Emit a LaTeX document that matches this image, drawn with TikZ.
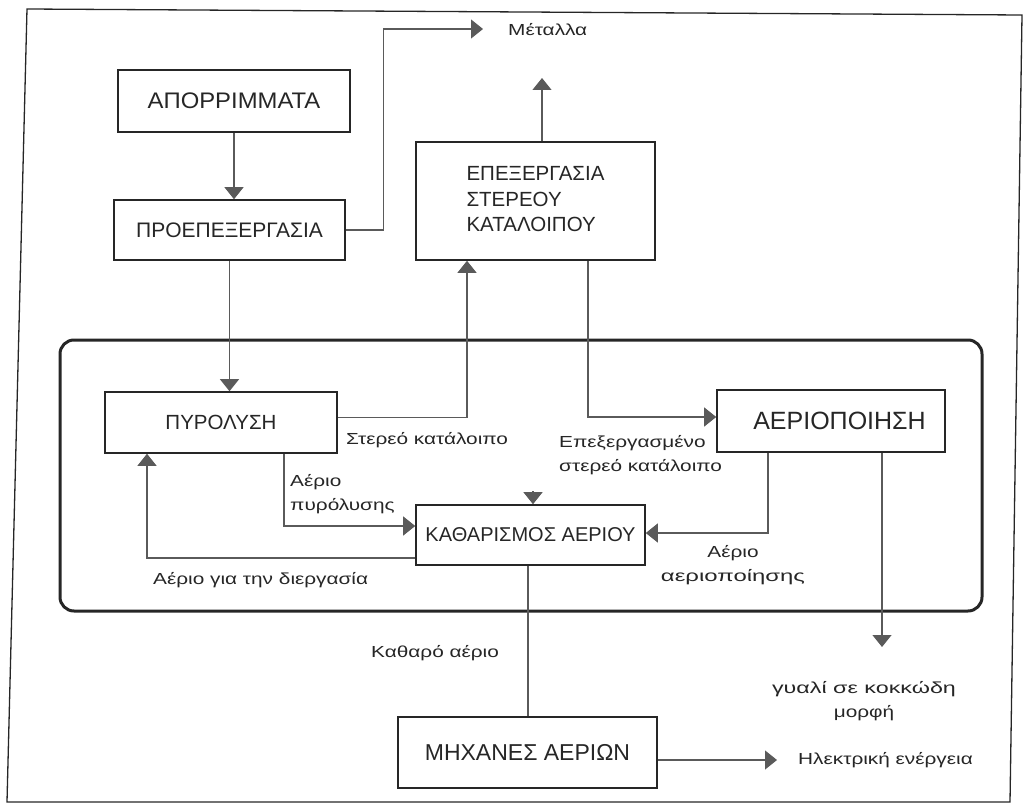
\documentclass[tikz,border=0pt]{standalone}
\usepackage{fontspec}
\usepackage{graphicx}
\setmainfont{Liberation Sans}
\newfontfamily\lblfont{Liberation Sans}[FakeStretch=1.3]
\usetikzlibrary{arrows.meta,calc}
\definecolor{ink}{HTML}{262626}
\definecolor{wire}{HTML}{5A5A5A}
% horizontally widened caption text
\newcommand{\widetext}[2]{\scalebox{#1}[1]{#2}}
\begin{document}
\begin{tikzpicture}[x=1pt,y=-1pt,
  box/.style={draw=ink, line width=1.6pt, text=ink, inner xsep=4pt},
  fs/.style={font=\fontsize{#1}{25.5}\selectfont},
  lbl/.style={text=ink, inner sep=0pt, font=\lblfont\fontsize{16}{24}\selectfont},
  wireline/.style={draw=wire, line width=1.2pt},
  arr/.style={wireline, -{Triangle[width=19pt,length=12pt,fill=wire]}}]
\useasboundingbox (0,0) rectangle (1030,805);

% page frame and process enclosure
\draw[line width=1.3pt, ink] (27,9) -- (1022,15) -- (1010,802) -- (7,802) -- cycle;
\draw[line width=3pt, ink, rounded corners=14pt] (60,340) rectangle (982,611);

% process blocks
\node[box, fs=22.5, minimum width=232pt, minimum height=62pt] (apo) at (234,101) {\widetext{1.06}{ΑΠΟΡΡΙΜΜΑΤΑ}};
\node[box, fs=21, minimum width=231pt, minimum height=60pt] (proep) at (229.5,230) {ΠΡΟΕΠΕΞΕΡΓΑΣΙΑ};
\node[box, fs=20.5, minimum width=239pt, minimum height=118pt] (epex) at (535.5,201)
  {\begin{tabular}{@{}l@{}}ΕΠΕΞΕΡΓΑΣΙΑ\\ΣΤΕΡΕΟΥ\\ΚΑΤΑΛΟΙΠΟΥ\end{tabular}};
\node[box, fs=20.5, minimum width=232pt, minimum height=61pt] (pyro) at (221,422.5) {ΠΥΡΟΛΥΣΗ};
\node[box, fs=20, minimum width=229pt, minimum height=60pt] (kath) at (530.5,535) {ΚΑΘΑΡΙΣΜΟΣ ΑΕΡΙΟΥ};
\node[box, fs=25, minimum width=228pt, minimum height=62pt] (aer) at (831,421) {\hspace{17pt}ΑΕΡΙΟΠΟΙΗΣΗ};
\node[box, fs=23, minimum width=259pt, minimum height=71pt] (mix) at (527.5,752.5) {ΜΗΧΑΝΕΣ ΑΕΡΙΩΝ};

% free ends of outgoing streams
\coordinate (metin) at (483,29);
\coordinate (metup) at (542,78);
\coordinate (glass) at (882,647);
\coordinate (elec) at (777,760);
\coordinate (kh) at (533,491);

% flows
\draw[arr] (apo.south) -- (apo.south |- proep.north);
\draw[arr] (proep.east) -- ++(38,0) |- (metin);
\draw[arr] (epex.north -| metup) -- (metup);
\draw[arr] (proep.south) -- (proep.south |- pyro.north);
\draw[arr] ([yshift=5pt]pyro.east) -| ([xshift=-68.5pt]epex.south);
\draw[arr] ([xshift=52.5pt]epex.south) |- ([yshift=4pt]aer.west);
\draw[arr] ([xshift=63pt]pyro.south) |- ([yshift=9pt]kath.west);
\draw[arr] ([yshift=-23pt]kath.west) -| ([xshift=-74pt]pyro.south);
\draw[arr] ([xshift=-63pt]aer.south) |- ([yshift=2pt]kath.east);
\draw[arr] (aer.south -| glass) -- (glass);
\draw[wireline] ([xshift=-2.5pt]kath.south) -- ([xshift=-2.5pt]kath.south |- mix.north);
\draw[arr] (mix.east |- elec) -- (elec);
\draw[arr] (kh) -- (kh |- kath.north);

% stream labels
\node[lbl, anchor=west] (lmet) at (508,30) {Μέταλλα};
\node[lbl, anchor=west] (lsol) at (346,440) {Στερεό κατάλοιπο};
\node[lbl, anchor=west, align=left] (lproc) at (559,455) {Επεξεργασμένο\\στερεό κατάλοιπο};
\node[lbl, anchor=west, align=left] (lpyr) at (290,494) {Αέριο\\πυρόλυσης};
\node[lbl, anchor=west] (lrec) at (153,580) {Αέριο για την διεργασία};
\node[lbl, align=center] (lgas) at (733,565) {Αέριο\\\widetext{1.15}{αεριοποίησης}};
\node[lbl, align=center] (lglass) at (864,701) {\widetext{1.12}{γυαλί σε κοκκώδη}\\μορφή};
\node[lbl, anchor=west] (lclean) at (371,653) {Καθαρό αέριο};
\node[lbl, anchor=west] (lelec) at (798,760) {Ηλεκτρική ενέργεια};
\end{tikzpicture}
\end{document}
